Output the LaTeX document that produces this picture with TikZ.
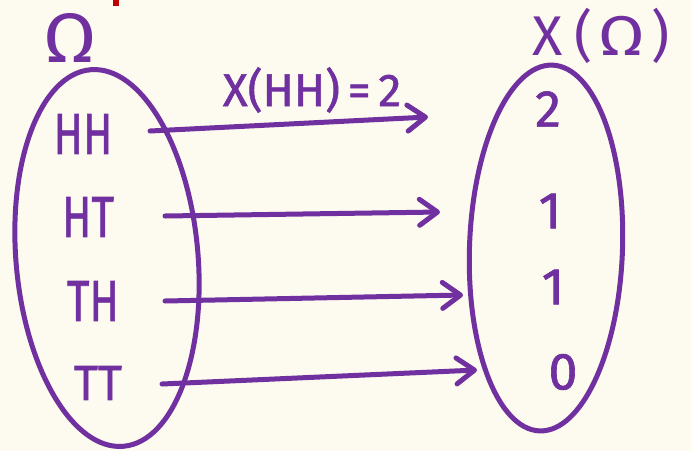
\documentclass[tikz,border=0pt]{standalone}
\usepackage{fontspec}
\setmainfont{Fira Sans}
\newfontfamily\penfont{Fira Sans}[FakeBold=1.2]
\usetikzlibrary{shapes.geometric,arrows.meta}
\definecolor{bg}{HTML}{FDFAEF}
\definecolor{pen}{HTML}{7030A0}
\definecolor{redmark}{HTML}{C00000}
\tikzset{
  setbox/.style={draw=pen, line width=5pt, ellipse, inner sep=0pt},
  lbl/.style={text=pen, inner sep=0pt, font=\penfont\fontsize{58}{62}\selectfont},
  title/.style={text=pen, inner sep=0pt, font=\normalfont\fontsize{70}{74}\selectfont},
  small/.style={text=pen, inner sep=0pt, font=\penfont\fontsize{46}{50}\selectfont},
  num/.style={text=pen, inner sep=0pt, font=\penfont\fontsize{52}{56}\selectfont},
  map/.style={draw=pen, line width=5pt, line cap=round, -{Straight Barb[length=18pt,width=26pt,round]}},
}
\begin{document}
\begin{tikzpicture}[x=1pt,y=-1pt]
\fill[bg] (0,0) rectangle (691,451);
\useasboundingbox (0,0) rectangle (691,451);
\fill[redmark] (113,0) rectangle (119,6);
% sets
\node[setbox, minimum width=182pt, minimum height=378pt, rotate=5] (omega) at (107,258) {};
\node[setbox, minimum width=153pt, minimum height=366pt, rotate=-2] (xomega) at (546,248) {};
% titles
\node[title] (tomega) at (70,38) {\scalebox{1.1}[1]{Ω}};
\node[title, font=\normalfont\fontsize{56}{60}\selectfont] (txomega) at (601,36) {X\hspace{12pt}(\hspace{6pt}\scalebox{1.2}[1]{Ω}\hspace{6pt})};
% outcomes
\node[lbl] (hh) at (83,134) {\scalebox{0.75}[1]{HH}};
\node[lbl] (ht) at (88,217) {\scalebox{0.75}[1]{HT}};
\node[lbl] (th) at (93,301) {\scalebox{0.75}[1]{TH}};
\node[lbl] (tt) at (98,383) {\scalebox{0.8}[0.85]{TT}};
% values
\node[num] (v2) at (548,109) {2};
\node[num] (v1a) at (550,211) {1};
\node[num] (v1b) at (553,287) {1};
\node[num] (v0) at (563,372) {0};
% label
\node[small] (xhh) at (312,90) {X(HH)\,=\,2};
% connectors
\coordinate (s1) at (150,131); \coordinate (e1) at (428,117);
\coordinate (s2) at (165,216); \coordinate (e2) at (440,212);
\coordinate (s3) at (165,301); \coordinate (e3) at (463,295);
\coordinate (s4) at (162,384); \coordinate (e4) at (477,370);
\draw[map] (s1) -- (e1);
\draw[map] (s2) -- (e2);
\draw[map] (s3) -- (e3);
\draw[map] (s4) -- (e4);
\end{tikzpicture}
\end{document}
